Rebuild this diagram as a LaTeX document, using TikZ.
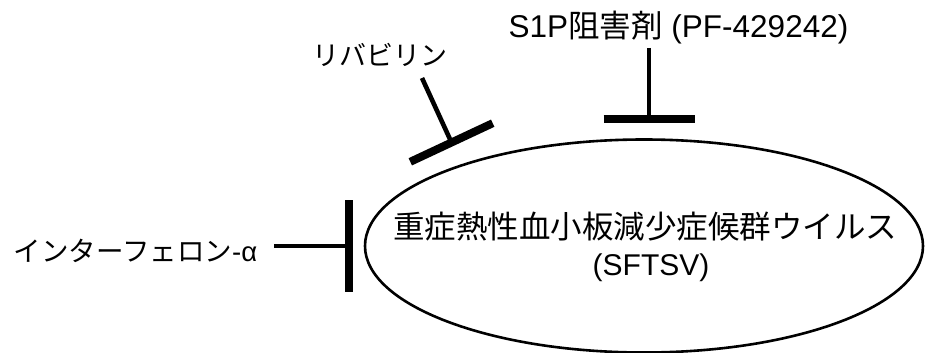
\documentclass[tikz,border=0pt]{standalone}
\usepackage{fontspec}
\setmainfont{Liberation Sans}
\newfontfamily\jp{Noto Sans CJK JP}
\usetikzlibrary{shapes.geometric}
\begin{document}
\begin{tikzpicture}[x=1pt,y=-1pt,
  virusbox/.style={ellipse, draw, line width=2.6pt, minimum width=558pt, minimum height=213pt, inner sep=0pt, align=center},
  lbl/.style={inner sep=0pt, anchor=center},
  stemline/.style={line width=4.6pt},
  blockbar/.style={line width=8pt}]
\useasboundingbox (0,0) rectangle (927,353);
% virus
\node[virusbox] (virus) at (644,246) {};
\node[lbl] (vname) at (645,227) {\fontsize{31.5}{34}\selectfont\jp 重症熱性血小板減少症候群ウイルス};
\node[lbl] (vabbr) at (651,268) {\fontsize{30}{34}\selectfont (SFTSV)};
% labels
\node[lbl] (ifn) at (135.5,251) {\fontsize{27.5}{30}\selectfont{\jp インターフェロン}-α};
\node[lbl] (riba) at (380,55) {\fontsize{27}{30}\selectfont\jp リバビリン};
\node[lbl] (s1p) at (678.5,28) {\fontsize{31.5}{33}\selectfont S1P{\jp 阻害剤} (PF-429242)};
% bar centres
\coordinate (ifnbar) at (349,246);
\coordinate (ribabar) at (451.5,142.5);
\coordinate (s1pbar) at (649,119);
% stems
\draw[stemline] (ifn.east |- ifnbar) ++(17,0) -- (ifnbar);
\draw[stemline] (422,78) coordinate (ribastart) -- (ribabar);
\draw[stemline] (649,48) coordinate (s1pstart) -- (s1pbar);
% bars
\draw[blockbar] (ifnbar) ++(0,-46) -- ++(0,92);
\draw[blockbar] (ribabar) ++(-41.2,19.3) -- ++(82.4,-38.6);
\draw[blockbar] (s1pbar) ++(-45.5,0) -- ++(91,0);
\end{tikzpicture}
\end{document}
